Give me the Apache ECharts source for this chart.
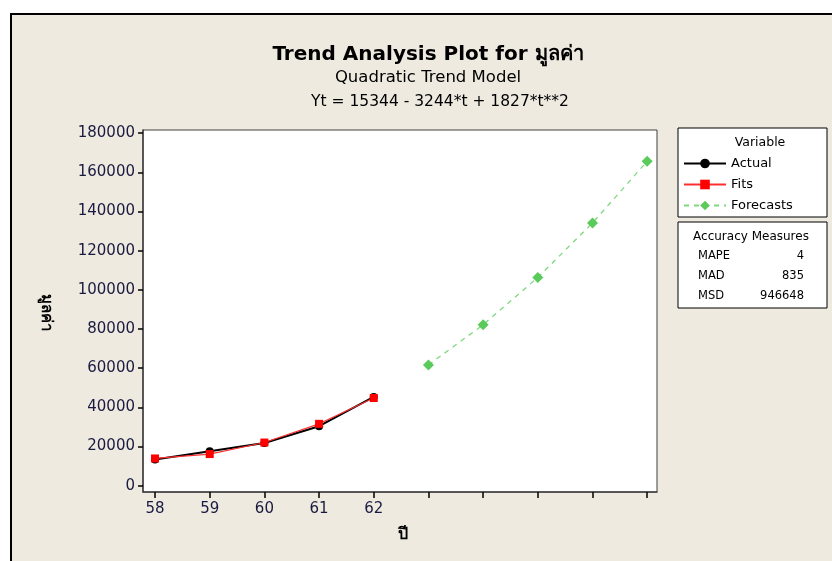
<!DOCTYPE html>
<html>
<head>
<meta charset="utf-8">
<script src="https://cdn.jsdelivr.net/npm/echarts@6/dist/echarts.min.js"></script>
<style>
  html, body { margin: 0; padding: 0; background: #ffffff; }
  #chart { width: 832px; height: 561px; }
</style>
</head>
<body>
<div id="chart"></div>
<script>
// Time index t = 1..10; years 58-62 are observed, the rest are forecasts
const periods = [1, 2, 3, 4, 5, 6, 7, 8, 9, 10];
const periodLabels = ['58', '59', '60', '61', '62', '', '', '', '', ''];
const actualValues = [13350, 17650, 21800, 30400, 45350];
const fitValues = [13927, 16164, 22055, 31600, 44799];
const forecastValues = [61652, 82159, 106320, 134135, 165604];
const yTicks = [0, 20000, 40000, 60000, 80000, 100000, 120000, 140000, 160000, 180000];
const accuracyNames = ['MAPE', 'MAD', 'MSD'];
const accuracyValues = ['4', '835', '946648'];

const FONT = 'DejaVu Sans';
const BG = '#eeeae0';

const actualData = actualValues.map((v, i) => [periods[i], v]);
const fitData = fitValues.map((v, i) => [periods[i], v]);
const forecastData = forecastValues.map((v, i) => [periods[actualValues.length + i], v]);

const chart = echarts.init(document.getElementById('chart'), null, { renderer: 'canvas' });

const graphics = [
  // outer panel
  { type: 'rect', z: -10, shape: { x: 11, y: 14, width: 840, height: 560 },
    style: { fill: BG, stroke: '#000', lineWidth: 2 } },
  // legend box
  { type: 'rect', shape: { x: 678, y: 128, width: 149, height: 89 },
    style: { fill: '#fff', stroke: '#000', lineWidth: 1 } },
  { type: 'text', x: 760, y: 143, style: { text: 'Variable', font: '12.5px ' + FONT, fill: '#000', align: 'center', verticalAlign: 'middle' } },
  // accuracy box
  { type: 'rect', shape: { x: 678, y: 222, width: 149, height: 86 },
    style: { fill: '#fff', stroke: '#000', lineWidth: 1 } },
  { type: 'text', x: 751, y: 237, style: { text: 'Accuracy Measures', font: '12px ' + FONT, fill: '#000', align: 'center', verticalAlign: 'middle' } },
  // titles
  { type: 'text', x: 428, y: 55, style: { text: 'Trend Analysis Plot for มูลค่า', font: 'bold 20px ' + FONT, fill: '#000', align: 'center', verticalAlign: 'middle' } },
  { type: 'text', x: 428, y: 78, style: { text: 'Quadratic Trend Model', font: '16.5px ' + FONT, fill: '#000', align: 'center', verticalAlign: 'middle' } },
  { type: 'text', x: 440, y: 102, style: { text: 'Yt = 15344 - 3244*t + 1827*t**2', font: '15.5px ' + FONT, fill: '#000', align: 'center', verticalAlign: 'middle' } },
  // axis titles
  { type: 'text', x: 46, y: 312, rotation: -Math.PI / 2, style: { text: 'มูลค่า', font: 'bold 15px ' + FONT, fill: '#000', align: 'center', verticalAlign: 'middle' } },
  { type: 'text', x: 403, y: 535, style: { text: 'ปี', font: 'bold 16px ' + FONT, fill: '#000', align: 'center', verticalAlign: 'middle' } }
];
accuracyNames.forEach((name, i) => {
  graphics.push({ type: 'text', x: 698, y: 256 + i * 20, style: { text: name, font: '11.5px ' + FONT, fill: '#000', align: 'left', verticalAlign: 'middle' } });
  graphics.push({ type: 'text', x: 804, y: 256 + i * 20, style: { text: accuracyValues[i], font: '11.5px ' + FONT, fill: '#000', align: 'right', verticalAlign: 'middle' } });
});

const option = {
  backgroundColor: '#ffffff',
  animation: false,
  textStyle: { fontFamily: FONT },
  grid: { left: 143, top: 130, width: 514, height: 362, show: true, backgroundColor: '#fff', borderColor: '#404040', borderWidth: 1 },
  legend: {
    orient: 'vertical', left: 678, top: 152,
    itemWidth: 42, itemHeight: 12, itemGap: 8,
    textStyle: { fontFamily: FONT, fontSize: 13, color: '#000' },
    data: ['Actual', 'Fits', 'Forecasts']
  },
  xAxis: {
    type: 'value', min: 0.78, max: 10.18,
    axisLine: { show: true, onZero: false, lineStyle: { color: '#404040', width: 1.5 } },
    axisTick: { show: true, length: 6, customValues: periods, lineStyle: { color: '#000', width: 1.5 } },
    axisLabel: {
      customValues: periods,
      formatter: v => periodLabels[periods.indexOf(v)] || '',
      fontFamily: FONT, fontSize: 15, color: '#1a1a40', margin: 10
    },
    splitLine: { show: false }
  },
  yAxis: {
    type: 'value', min: -3200, max: 181600,
    axisLine: { show: true, onZero: false, lineStyle: { color: '#404040', width: 1.5 } },
    axisTick: { show: true, length: 5, customValues: yTicks, lineStyle: { color: '#000', width: 1.5 } },
    axisLabel: { customValues: yTicks, formatter: v => String(v), fontFamily: FONT, fontSize: 15, color: '#1a1a40', margin: 8 },
    splitLine: { show: false }
  },
  series: [
    {
      name: 'Actual', type: 'line', data: actualData, z: 3,
      symbol: 'circle', symbolSize: 8,
      itemStyle: { color: '#000' }, lineStyle: { color: '#000', width: 2 }
    },
    {
      name: 'Fits', type: 'line', data: fitData, z: 4,
      symbol: 'rect', symbolSize: 8,
      itemStyle: { color: '#ff0000' }, lineStyle: { color: '#ff3030', width: 1.2 }
    },
    {
      name: 'Forecasts', type: 'line', data: forecastData, z: 4,
      symbol: 'diamond', symbolSize: 11,
      itemStyle: { color: '#5acb5a' }, lineStyle: { color: '#7fd87f', width: 1.3, type: [5, 5] }
    }
  ],
  graphic: graphics
};
chart.setOption(option);
</script>
</body>
</html>
